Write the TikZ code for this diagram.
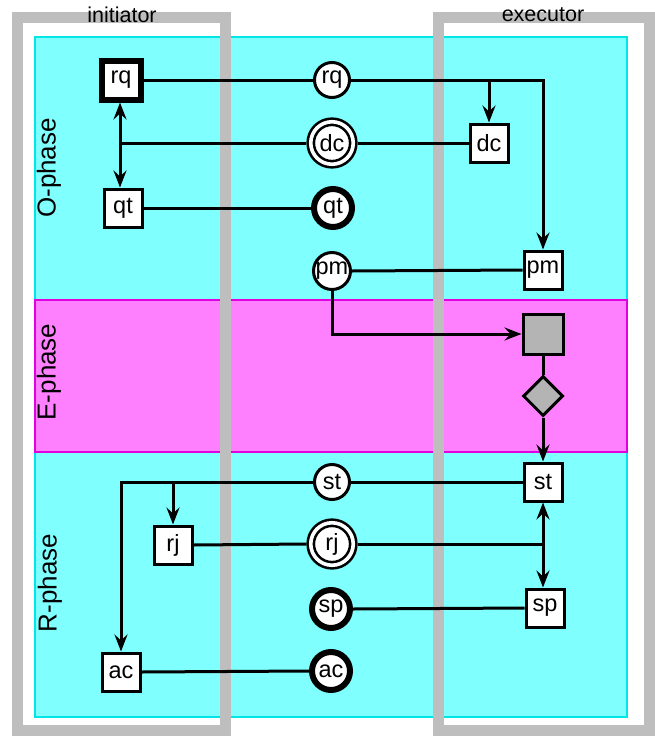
\documentclass[tikz,border=0pt]{standalone}
\usepackage{fontspec}
\setmainfont{Liberation Sans}
\usetikzlibrary{arrows.meta,shapes.geometric}
\definecolor{cyanfill}{HTML}{80FFFF}
\definecolor{cyanedge}{HTML}{00E6E6}
\definecolor{magfill}{HTML}{FF80FF}
\definecolor{magedge}{HTML}{E000E0}
\definecolor{framegray}{HTML}{BEBEBE}
\definecolor{taskgray}{HTML}{B4B4B4}
\begin{document}
\begin{tikzpicture}[x=1pt,y=-1pt,
  lbl/.style={font=\fontsize{23.5}{23.5}\selectfont, inner sep=0pt},
  box/.style={lbl, rectangle, draw=black, fill=white, line width=3pt, minimum size=38pt},
  boxbold/.style={box, line width=6pt, minimum size=39pt},
  circ/.style={lbl, circle, draw=black, fill=white, line width=3pt, minimum size=35pt},
  circbold/.style={circ, line width=6pt, minimum size=38pt},
  circdouble/.style={circ, line width=2.6pt, double=white, double distance=3.6pt, minimum size=42.5pt, outer sep=4.4pt},
  frame/.style={draw=framegray, line width=11pt},
  phaselbl/.style={rotate=90, font=\fontsize{26}{26}\selectfont, inner sep=0pt},
  framelbl/.style={font=\fontsize{21.5}{21.5}\selectfont, inner sep=0pt},
  conn/.style={draw=black, line width=3pt},
  tip/.tip={Stealth[length=17pt,width=13pt,inset=6pt]}
]
\useasboundingbox (0,0) rectangle (655,736);
% phase bands
\filldraw[fill=cyanfill, draw=cyanedge, line width=1.2pt] (35,37) rectangle (627,300);
\filldraw[fill=cyanfill, draw=cyanedge, line width=1.2pt] (35,452) rectangle (627,717);
\filldraw[fill=magfill, draw=magedge, line width=1.2pt] (35,300) rectangle (627,452);
% actor frames
\draw[frame] (17,17) rectangle (225,730);
\draw[frame] (438,17) rectangle (649,730);
\node[framelbl] (initlbl) at (122,15) {initiator};
\node[framelbl] (execlbl) at (543,15) {executor};
% phase labels
\node[phaselbl] (ophase) at (49,168) {O-phase};
\node[phaselbl] (ephase) at (49,372) {E-phase};
\node[phaselbl] (rphase) at (50,583) {R-phase};
% nodes
\node[boxbold] (rqI) at (121,80) {rq};
\node[box] (qtI) at (123,208) {qt};
\node[circ] (rqC) at (332,80) {rq};
\node[circdouble] (dcC) at (332,143) {dc};
\node[circbold] (qtC) at (333,208) {qt};
\node[circ] (pmC) at (332,271) {pm};
\node[box] (dcE) at (489,143) {dc};
\node[box] (pmE) at (543,270) {pm};
\node[rectangle, draw=black, fill=taskgray, line width=3pt, minimum size=40pt] (execT) at (543,334) {};
\node[diamond, draw=black, fill=taskgray, line width=3pt, minimum width=40pt, minimum height=40pt, inner sep=0pt] (dmd) at (543,396) {};
\node[box] (stE) at (543,482) {st};
\node[circ] (stC) at (332,482) {st};
\node[box] (rjI) at (173,545) {rj};
\node[circdouble] (rjC) at (332,544) {rj};
\node[box] (spE) at (545,608) {sp};
\node[circbold] (spC) at (331,609) {sp};
\node[box] (acI) at (121,672) {ac};
\node[circbold] (acC) at (331,671) {ac};
% connectors
\draw[conn] (rqI.east) -- (rqC.west);
\draw[conn,-tip] (rqC.east) -| (pmE.north);
\draw[conn,-tip] (rqC.east -| dcE.north) -- (dcE.north);
\draw[conn,tip-tip] (rqI.south -| 120,0) -- (qtI.north -| 120,0);
\draw[conn] (dcC.west -| 120,0) -- (dcC.west);
\draw[conn] (dcC.east) -- (dcE.west);
\draw[conn] (qtI.east) -- (qtC.west);
\draw[conn] (pmC.east) -- (pmE.west);
\draw[conn,-tip] (pmC.south) |- (execT.west);
\draw[conn] (execT.south) -- (dmd.north);
\draw[conn,-tip] (dmd.south) -- (stE.north);
\draw[conn] (stE.west) -- (stC.east);
\draw[conn,-tip] (stC.west) -| (acI.north);
\draw[conn,-tip] (stC.west -| rjI.north) -- (rjI.north);
\draw[conn] (rjI.east) -- (rjC.west);
\draw[conn] (rjC.east) -- (rjC.east -| stE.south);
\draw[conn,tip-tip] (stE.south) -- (stE.south |- spE.north);
\draw[conn] (spC.east) -- (spE.west);
\draw[conn] (acI.east) -- (acC.west);
\end{tikzpicture}
\end{document}
